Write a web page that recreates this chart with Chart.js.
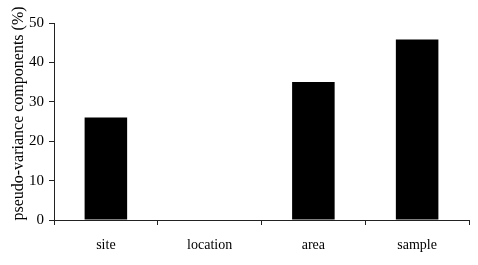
<!DOCTYPE html>
<html>
<head>
<meta charset="utf-8">
<script src="https://cdn.jsdelivr.net/npm/chart.js@4/dist/chart.umd.min.js"></script>
<style>
  html, body { margin: 0; padding: 0; background: #fff; }
  #wrap { width: 478px; height: 265px; }
</style>
</head>
<body>
<div id="wrap"><canvas id="chart"></canvas></div>
<script>
var categories = ['site', 'location', 'area', 'sample'];
var variance = [26, 0, 35, 45.8];
var yTicks = [0, 10, 20, 30, 40, 50];

var ctx = document.getElementById('chart').getContext('2d');
var chart = new Chart(ctx, {
    type: 'bar',
    data: {
        labels: categories,
        datasets: [{
            data: variance,
            backgroundColor: '#000',
            borderWidth: 0,
            categoryPercentage: 1,
            barPercentage: 0.41
        }]
    },
    options: {
        responsive: true,
        maintainAspectRatio: false,
        animation: false,
        layout: { padding: { top: 23, right: 9, left: 0, bottom: 0 } },
        plugins: { legend: { display: false }, tooltip: { enabled: false } },
        scales: {
            x: {
                grid: { display: true, drawOnChartArea: false, offset: true, tickLength: 5, color: '#222' },
                border: { color: '#222', width: 1 },
                ticks: { color: '#000', padding: 12, font: { family: 'Liberation Serif', size: 14 } },
                afterFit: function (scale) { scale.height = 45; }
            },
            y: {
                min: 0,
                max: 50,
                afterBuildTicks: function (scale) {
                    scale.ticks = yTicks.map(function (v) { return { value: v }; });
                },
                grid: { display: true, drawOnChartArea: false, tickLength: 5, color: '#222' },
                border: { color: '#222', width: 1 },
                ticks: { color: '#000', padding: 5, font: { family: 'Liberation Serif', size: 15 } },
                title: {
                    display: true,
                    // leading spaces nudge the rotated title up a little, like the original
                    text: '    pseudo-variance components (%)',
                    color: '#000',
                    padding: { top: 9, bottom: 0 },
                    font: { family: 'Liberation Serif', size: 16 }
                },
                afterFit: function (scale) { scale.width = 54; }
            }
        }
    }
});
</script>
</body>
</html>
